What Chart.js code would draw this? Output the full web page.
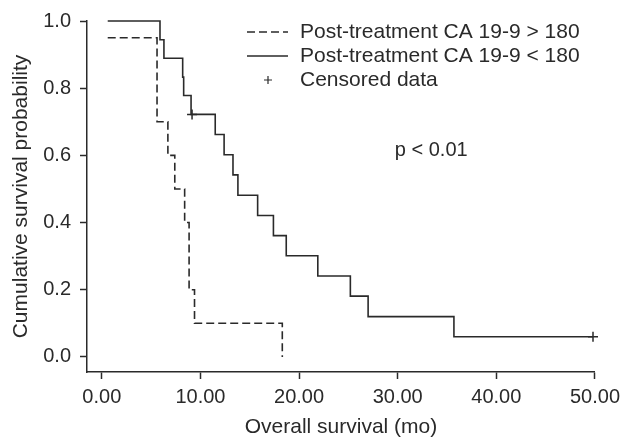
<!DOCTYPE html>
<html>
<head>
<meta charset="utf-8">
<script src="https://cdn.jsdelivr.net/npm/chart.js@4"></script>
<style>
  body { margin: 0; background: #fff; }
  #wrap { width: 626px; height: 437px; }
</style>
</head>
<body>
<div id="wrap"><canvas id="chart" width="626" height="437"></canvas></div>
<script>
// Post-treatment CA 19-9 < 180 (solid)
const lowTimes = [0.6, 5.9, 6.3, 8.2, 8.3, 9.05, 11.5, 12.4, 13.3, 13.8, 15.8, 17.4, 18.7, 21.9, 25.2, 27.0, 35.7, 49.8];
const lowSurv = [1.0, 0.944, 0.889, 0.833, 0.778, 0.722, 0.662, 0.602, 0.542, 0.481, 0.421, 0.361, 0.301, 0.241, 0.181, 0.120, 0.060, 0.060];

// Post-treatment CA 19-9 > 180 (dashed)
const highTimes = [0.6, 5.6, 6.7, 7.4, 8.4, 8.85, 9.4, 18.3];
const highSurv = [0.95, 0.70, 0.60, 0.50, 0.40, 0.20, 0.10, 0.0];

// censored observations
const censorTimes = [9.15, 49.8];
const censorSurv = [0.722, 0.060];

const xTickValues = [0, 10, 20, 30, 40, 50];
const yTickValues = [0, 0.2, 0.4, 0.6, 0.8, 1.0];
const legendLabels = ['Post-treatment CA 19-9 > 180', 'Post-treatment CA 19-9 < 180', 'Censored data'];
const pValueText = 'p < 0.01';
const pValueAt = [33.4, 0.615];

const ink = '#2a2a2a';
const fontFamily = '"Liberation Sans", Arial, Helvetica, sans-serif';

const toPoints = (xs, ys) => xs.map((x, i) => ({ x, y: ys[i] }));

// legend and p-value text
const overlay = {
  id: 'overlay',
  afterDatasetsDraw(chart) {
    const { ctx, scales } = chart;
    ctx.save();
    ctx.fillStyle = ink;
    ctx.strokeStyle = ink;
    ctx.lineWidth = 1.6;
    ctx.textBaseline = 'middle';
    ctx.font = '21px ' + fontFamily;
    legendLabels.forEach((label, i) => {
      const y = 32 + i * 24;
      ctx.beginPath();
      if (i === 0) {
        ctx.setLineDash([8, 4]);
        ctx.moveTo(247, y); ctx.lineTo(288, y);
      } else if (i === 1) {
        ctx.setLineDash([]);
        ctx.moveTo(247, y); ctx.lineTo(288, y);
      } else {
        ctx.setLineDash([]);
        ctx.lineWidth = 1.2;
        ctx.moveTo(264, y); ctx.lineTo(272, y);
        ctx.moveTo(268, y - 4); ctx.lineTo(268, y + 4);
      }
      ctx.stroke();
      ctx.textAlign = 'left';
      ctx.fillText(label, 300, y);
    });
    ctx.textAlign = 'center';
    ctx.font = '20px ' + fontFamily;
    ctx.fillText(pValueText, scales.x.getPixelForValue(pValueAt[0]), scales.y.getPixelForValue(pValueAt[1]));
    ctx.restore();
  }
};

new Chart(document.getElementById('chart'), {
  type: 'scatter',
  data: {
    datasets: [
      {
        data: toPoints(highTimes, highSurv),
        showLine: true,
        stepped: true,
        borderColor: ink,
        borderWidth: 1.6,
        borderDash: [8, 4],
        pointRadius: 0,
        clip: false
      },
      {
        data: toPoints(lowTimes, lowSurv),
        showLine: true,
        stepped: true,
        borderColor: ink,
        borderWidth: 1.6,
        pointRadius: 0,
        clip: false
      },
      {
        data: toPoints(censorTimes, censorSurv),
        pointStyle: 'cross',
        pointRadius: 5,
        borderColor: ink,
        borderWidth: 1.5,
        clip: false
      }
    ]
  },
  options: {
    responsive: false,
    animation: false,
    layout: { padding: { left: 0, right: 29, top: 21, bottom: 0 } },
    plugins: { legend: { display: false }, tooltip: { enabled: false } },
    scales: {
      x: {
        type: 'linear',
        min: -1.5,
        max: 50,
        afterBuildTicks: s => { s.ticks = xTickValues.map(v => ({ value: v })); },
        afterFit: s => { s.height = 65; },
        ticks: {
          callback: v => v.toFixed(2),
          font: { family: fontFamily, size: 20 },
          color: ink,
          padding: 6,
          maxRotation: 0,
          autoSkip: false
        },
        grid: { drawOnChartArea: false, tickLength: 7, tickColor: ink, tickWidth: 1.5 },
        border: { color: ink, width: 1.5 },
        title: {
          display: true,
          text: 'Overall survival (mo)',
          color: ink,
          font: { family: fontFamily, size: 21, lineHeight: 0.9 },
          padding: { top: 0, bottom: 0 }
        }
      },
      y: {
        min: -0.045,
        max: 1.0,
        afterBuildTicks: s => { s.ticks = yTickValues.map(v => ({ value: v })); },
        afterFit: s => { s.width = 87; },
        ticks: {
          callback: v => v.toFixed(1),
          font: { family: fontFamily, size: 20 },
          color: ink,
          padding: 9
        },
        grid: { drawOnChartArea: false, tickLength: 7, tickColor: ink, tickWidth: 1.5 },
        border: { color: ink, width: 1.5 },
        title: {
          display: true,
          text: 'Cumulative survival probability',
          color: ink,
          font: { family: fontFamily, size: 21 },
          padding: { top: 9, bottom: 0 }
        }
      }
    }
  },
  plugins: [overlay]
});
</script>
</body>
</html>
